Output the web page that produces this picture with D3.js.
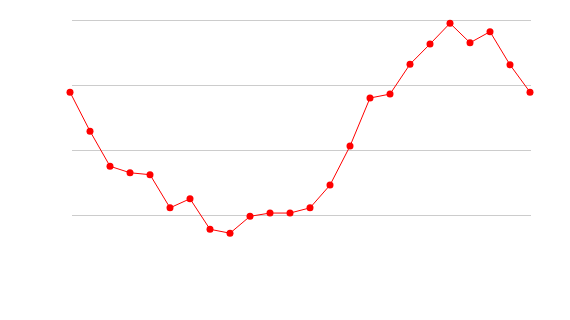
<!DOCTYPE html>
<html>
<head>
<meta charset="utf-8">
<script src="https://cdn.jsdelivr.net/npm/d3@7"></script>
<style>
  body { margin: 0; background: #fff; }
</style>
</head>
<body>
<div id="chart"></div>
<script>
(function () {
  "use strict";

  // hours of the day
  const hours = d3.range(24).map((h) => String(h));
  const values = [
    28.9, 22.9, 17.5, 16.5, 16.2, 11.1, 12.5, 7.8, 7.2, 9.8, 10.3, 10.3,
    11.1, 14.6, 20.6, 28.0, 28.6, 33.2, 36.3, 39.5, 36.5, 38.2, 33.1, 28.9
  ];
  const gridTicks = [10, 20, 30, 40];

  const width = 570;
  const height = 320;

  const svg = d3
    .select("#chart")
    .append("svg")
    .attr("width", width)
    .attr("height", height);

  const x = d3.scalePoint().domain(hours).range([70, 530]);
  const y = d3.scaleLinear().domain([0, 40]).range([280, 20]);

  // horizontal grid lines
  svg
    .append("g")
    .selectAll("line")
    .data(gridTicks)
    .join("line")
    .attr("x1", 72)
    .attr("x2", 531)
    .attr("y1", (d) => Math.round(y(d)) + 0.5)
    .attr("y2", (d) => Math.round(y(d)) + 0.5)
    .attr("stroke", "#cccccc")
    .attr("stroke-width", 1);

  const line = d3
    .line()
    .x((d, i) => x(hours[i]))
    .y((d) => y(d));

  svg
    .append("path")
    .datum(values)
    .attr("d", line)
    .attr("fill", "none")
    .attr("stroke", "red")
    .attr("stroke-width", 1);

  svg
    .append("g")
    .selectAll("circle")
    .data(values)
    .join("circle")
    .attr("cx", (d, i) => x(hours[i]))
    .attr("cy", (d) => y(d))
    .attr("r", 3.5)
    .attr("fill", "red");
})();
</script>
</body>
</html>
